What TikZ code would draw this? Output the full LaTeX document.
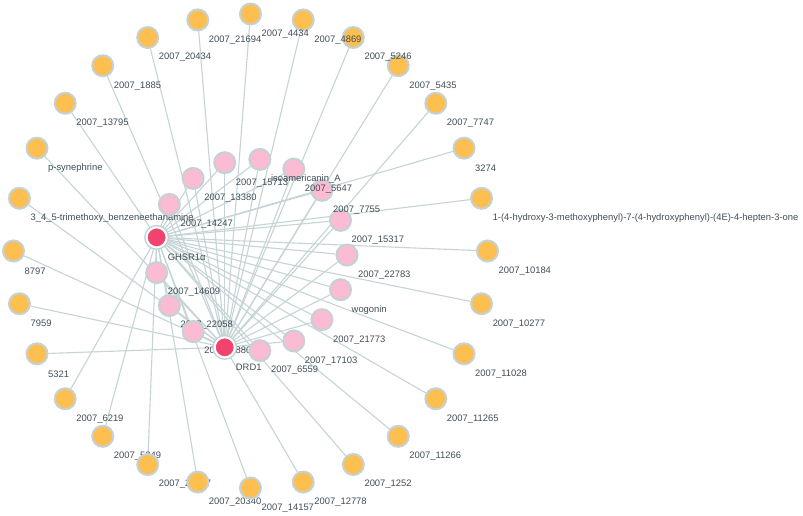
\documentclass[tikz,border=0pt]{standalone}
\usepackage{fontspec}
\setmainfont{Liberation Sans}
\usetikzlibrary{calc,backgrounds}
\definecolor{EdgeGrey}{RGB}{198,212,214}
\definecolor{RimGrey}{RGB}{196,210,213}
\definecolor{CompoundOrange}{RGB}{253,191,80}
\definecolor{SharedPink}{RGB}{250,187,211}
\definecolor{TargetRed}{RGB}{240,68,110}
\definecolor{LabelSlate}{RGB}{66,78,88}
\tikzset{
  outerdot/.style={circle,draw=RimGrey,line width=2pt,fill=CompoundOrange,
    minimum size=21pt,inner sep=0pt},
  pinkdot/.style={outerdot,fill=SharedPink},
  hubdot/.style={circle,fill=TargetRed,draw=white,line width=2pt,
    minimum size=20pt,inner sep=0pt,preaction={draw=RimGrey,line width=5pt}},
  link/.style={draw=EdgeGrey,line width=1.1pt},
  tag/.style={anchor=west,inner sep=0pt,text=LabelSlate,
    font=\fontsize{9.4}{11}\selectfont}
}
\begin{document}
\begin{tikzpicture}[x=1pt,y=-1pt]
  \useasboundingbox (0,0) rectangle (803,515);
  % Outer ring: compounds with one target
  \foreach \name [count=\k from 0] in {2007\_10184,
      1-(4-hydroxy-3-methoxyphenyl)-7-(4-hydroxyphenyl)-(4E)-4-hepten-3-one,
      3274, 2007\_7747, 2007\_5435, 2007\_5246, 2007\_4869, 2007\_4434,
      2007\_21694, 2007\_20434, 2007\_1885, 2007\_13795, p-synephrine,
      3\_4\_5-trimethoxy\_benzeneethanamine, 8797, 7959, 5321, 2007\_6219,
      2007\_5849, 2007\_21597, 2007\_20340, 2007\_14157, 2007\_12778,
      2007\_1252, 2007\_11266, 2007\_11265, 2007\_11028, 2007\_10277}{
    \pgfmathsetmacro\ang{\k*360/28}
    \node[outerdot] (c\k) at ({250.5+237*cos(\ang)},{251-237*sin(\ang)}) {};
    \node[tag] at ($(c\k)+(11,20)$) {\name};
  }
  % Inner ring: shared compounds, p8 = GHSR1a, p12 = DRD1
  \foreach \name/\kind [count=\j from 0] in {2007\_22783/pinkdot,
      2007\_15317/pinkdot, 2007\_7755/pinkdot, 2007\_5647/pinkdot,
      isoamericanin\_A/pinkdot, 2007\_15713/pinkdot, 2007\_13380/pinkdot,
      2007\_14247/pinkdot, GHSR1α/hubdot, 2007\_14609/pinkdot,
      2007\_22058/pinkdot, 2007\_5880/pinkdot, DRD1/hubdot,
      2007\_6559/pinkdot, 2007\_17103/pinkdot, 2007\_21773/pinkdot,
      wogonin/pinkdot}{
    \pgfmathsetmacro\ang{\j*360/17}
    \node[tag] at ({262+96*cos(\ang)},{275-96*sin(\ang)}) {\name};
    \node[\kind] (p\j) at ({251+96*cos(\ang)},{255-96*sin(\ang)}) {};
  }
  % Links
  \begin{scope}[on background layer]
    \fill[white] (0,0) rectangle (803,515);
    \foreach \k in {0,1,2,11,17,18,19,20,21,23,24,25,26,27}
      \draw[link] (c\k) -- (p8);
    \foreach \k in {3,...,10,12,13,14,15,16,22}
      \draw[link] (c\k) -- (p12);
    \foreach \j in {0,...,7,9,10,11,13,14,15,16}{
      \draw[link] (p\j) -- (p8);
      \draw[link] (p\j) -- (p12);
    }
  \end{scope}
\end{tikzpicture}
\end{document}
